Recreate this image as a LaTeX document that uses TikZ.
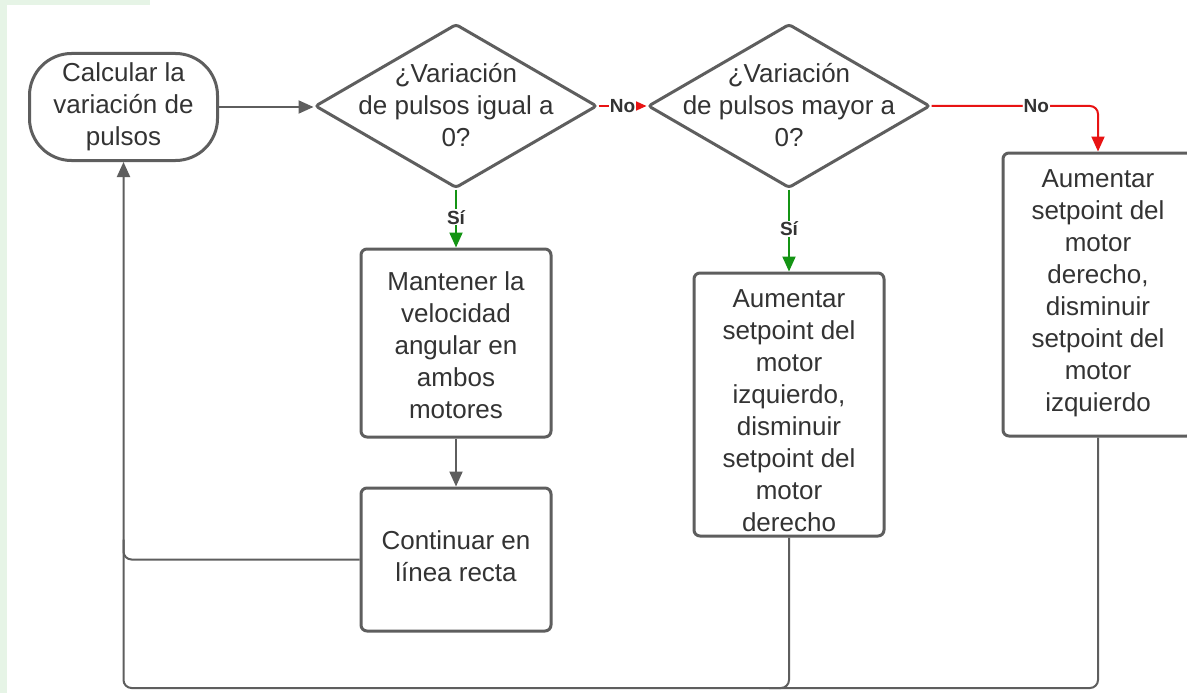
\documentclass[tikz,border=0pt]{standalone}
\usepackage{fontspec}
\setmainfont{Liberation Sans}
\usetikzlibrary{shapes.geometric,arrows.meta}
\definecolor{edge}{HTML}{5E5E5E}
\definecolor{ink}{HTML}{333333}
\definecolor{nored}{HTML}{E81313}
\definecolor{sigreen}{HTML}{149414}
\definecolor{tint}{HTML}{E6F4E6}
\begin{document}
\begin{tikzpicture}[x=1pt,y=-1pt,
  every node/.style={font=\fontsize{26}{32}\selectfont, text=ink},
  box/.style={draw=edge, line width=3pt, rounded corners=6pt, fill=white,
    minimum width=190pt, inner sep=0pt, align=center},
  term/.style={draw=edge, line width=3pt, rounded corners=42pt, fill=white,
    minimum width=188pt, minimum height=107pt, inner sep=0pt, align=center},
  decision/.style={draw=edge, line width=3pt, shape=diamond, rounded corners=3pt,
    fill=white, minimum width=282pt, minimum height=164pt, inner sep=0pt},
  qtext/.style={align=center, inner sep=0pt},
  conn/.style={draw=edge, line width=2pt, -{Triangle[length=15pt,width=13pt]}},
  plain/.style={draw=edge, line width=2pt},
  noarrow/.style={draw=nored, line width=2pt, -{Triangle[length=15pt,width=13pt]}},
  siarrow/.style={draw=sigreen, line width=2pt, -{Triangle[length=15pt,width=13pt]}},
  lbl/.style={font=\fontsize{19}{22}\selectfont\bfseries, text=ink, fill=white,
    inner sep=1pt}
]
\useasboundingbox (0,0) rectangle (1187,693);
% page background with the tinted margin strips
\fill[white] (0,0) rectangle (1187,693);
\fill[tint] (0,0) rectangle (7,693);
\fill[tint] (0,0) rectangle (150,5);

% nodes
\node[term] (start) at (123.5,107) {Calcular la\\variación de\\pulsos};
\node[decision] (d1) at (456,106) {};
\node[qtext] (d1t) at (456,105) {¿Variación\\de pulsos igual a\\0?};
\node[decision] (d2) at (789,106) {};
\node[qtext] (d2t) at (789,105) {¿Variación\\de pulsos mayor a\\0?};
\node[box, minimum height=188pt] (keep) at (456,343) {};
\node[qtext] (keept) at (456,345)
  {Mantener la\\velocidad\\angular en\\ambos\\motores};
\node[box, minimum height=143pt] (straight) at (456,559.5) {};
\node[qtext] (straightt) at (456,556) {Continuar en\\línea recta};
\node[box, minimum height=263pt] (left) at (789,404.5) {};
\node[qtext] (leftt) at (789,411)
  {Aumentar\\setpoint del\\motor\\izquierdo,\\disminuir\\setpoint del\\motor\\derecho};
\node[box, minimum height=283pt] (right) at (1098,294.5) {};
\node[qtext] (rightt) at (1098,293)
  {Aumentar\\setpoint del\\motor\\derecho,\\disminuir\\setpoint del\\motor\\izquierdo};
\coordinate (floor) at (0,688);

% connectors
\draw[conn] (start.east) -- (start.east -| d1.west);
\draw[noarrow] (d1.east) -- node[lbl] {No} (d2.west);
\draw[siarrow] (d1.south) -- node[lbl, pos=0.48] {Sí} (keep.north);
\draw[siarrow] (d2.south) -- node[lbl, pos=0.48] {Sí} (left.north);
\draw[noarrow, rounded corners=8pt] (d2.east) -| node[lbl, pos=0.315] {No} (right.north);
\draw[conn] (keep.south) -- (straight.north);
\draw[plain, rounded corners=8pt] (straight.west) -| ([yshift=20pt]start.south |- straight.west);
\draw[plain, rounded corners=8pt] (left.south) |- ([xshift=-20pt]left.south |- floor);
\draw[conn, rounded corners=8pt] (right.south) |- (start.south |- floor) -- (start.south);
\end{tikzpicture}
\end{document}
